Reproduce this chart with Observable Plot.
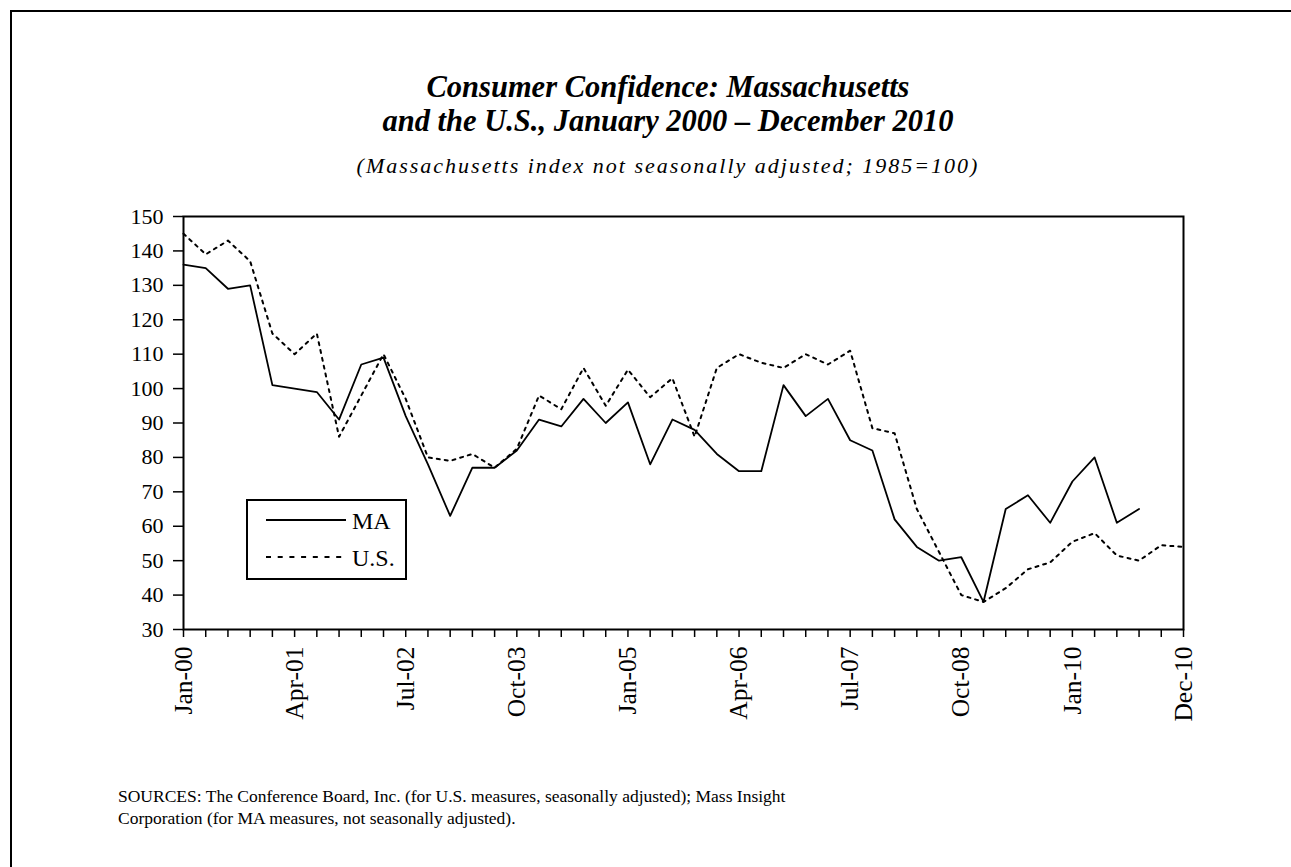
<!DOCTYPE html>
<html>
<head>
<meta charset="utf-8">
<script src="https://cdn.jsdelivr.net/npm/d3@7"></script>
<script src="https://cdn.jsdelivr.net/npm/@observablehq/plot@0.6"></script>
<style>
  html, body { margin: 0; padding: 0; background: #fff; }
  #page { position: relative; width: 1291px; height: 867px; overflow: hidden; font-family: "Liberation Serif", "Times New Roman", serif; color: #000; }
  #border { position: absolute; left: 10px; top: 10px; width: 1400px; height: 1000px; border-left: 2px solid #000; border-top: 2px solid #000; }
  #chart { position: absolute; left: 0; top: 0; }
  #title { position: absolute; left: 168px; width: 1000px; top: 70px; text-align: center; font-size: 30.5px; line-height: 34px; font-weight: bold; font-style: italic; }
  #subtitle { position: absolute; left: 168px; width: 1000px; top: 153px; text-align: center; font-size: 22px; line-height: 25px; font-style: italic; letter-spacing: 2px; }
  #legend { position: absolute; left: 246px; top: 499px; width: 157px; height: 77px; border: 2px solid #000; background: #fff; }
  #legend .row { position: absolute; left: 0; height: 28px; font-size: 24px; line-height: 28px; }
  #legend svg { position: absolute; left: 17px; top: 0; }
  #legend span { position: absolute; left: 104px; top: 0; }
  #footer { position: absolute; left: 118px; top: 785px; font-size: 17.5px; line-height: 22px; }
</style>
</head>
<body>
<div id="page">
  <div id="border"></div>
  <div id="chart"></div>
  <div id="title">Consumer Confidence: Massachusetts<br>and the U.S., January 2000 – December 2010</div>
  <div id="subtitle">(Massachusetts index not seasonally adjusted; 1985=100)</div>
  <div id="legend"></div>
  <div id="footer">SOURCES: The Conference Board, Inc. (for U.S. measures, seasonally adjusted); Mass Insight<br>Corporation (for MA measures, not seasonally adjusted).</div>
</div>
<script>
// Quarterly observations, index 0 = Jan-00
const maValues = [136, 135, 129, 130, 101, 100, 99, 91, 107, 109, 92, 78, 63, 77, 77, 82,
  91, 89, 97, 90, 96, 78, 91, 88, 81, 76, 76, 101, 92, 97, 85, 82,
  62, 54, 50, 51, 38, 65, 69, 61, 73, 80, 61, 65];
const usValues = [145, 139, 143, 137, 116, 110, 116, 86, 98, 110, 97, 80, 79, 81, 77, 82.5,
  98, 94, 106, 95, 105.5, 97.5, 103, 86, 106, 110, 107.5, 106, 110, 107, 111, 88.5,
  87, 65, 52.5, 40, 38, 42, 47.5, 49.5, 55.5, 58, 51.5, 50, 54.5, 54];
const tickLabels = ["Jan-00", "Apr-01", "Jul-02", "Oct-03", "Jan-05", "Apr-06", "Jul-07", "Oct-08", "Jan-10", "Dec-10"];
const yTicks = [30, 40, 50, 60, 70, 80, 90, 100, 110, 120, 130, 140, 150];
const seriesNames = ["MA", "U.S."];

const ma = maValues.map((v, i) => ({i, v}));
const us = usValues.map((v, i) => ({i, v}));
const nTicks = usValues.length; // 46 tick positions
const font = '"Liberation Serif", "Times New Roman", serif';

const chart = Plot.plot({
  width: 1291,
  height: 867,
  marginLeft: 183,
  marginRight: 108,
  marginTop: 216,
  marginBottom: 238,
  style: {fontFamily: font, color: "#000", background: "transparent"},
  x: {domain: [0, nTicks - 1]},
  y: {domain: [30, 150]},
  marks: [
    Plot.axisY({ticks: yTicks, tickSize: 10, tickPadding: 10, fontSize: 22, label: null, strokeWidth: 1.5}),
    Plot.axisX({ticks: d3.range(nTicks), tickSize: 8, tickPadding: 9, tickRotate: -90, fontSize: 25.5, label: null, strokeWidth: 1.5,
      tickFormat: d => d % 5 === 0 ? tickLabels[d / 5] : ""}),
    Plot.line(us, {x: "i", y: "v", stroke: "#000", strokeWidth: 2, strokeDasharray: "3,5"}),
    Plot.line(ma, {x: "i", y: "v", stroke: "#000", strokeWidth: 1.8}),
    Plot.frame({stroke: "#000", strokeWidth: 2})
  ]
});
document.getElementById("chart").appendChild(chart);

// Legend
const legend = document.getElementById("legend");
const dashes = [null, "5,6.7"];
seriesNames.forEach((name, k) => {
  const row = document.createElement("div");
  row.className = "row";
  row.style.top = (6 + k * 37) + "px";
  row.style.width = "157px";
  const svg = d3.create("svg").attr("width", 84).attr("height", 28);
  svg.append("line").attr("x1", 1).attr("x2", 81).attr("y1", 13).attr("y2", 13)
    .attr("stroke", "#000").attr("stroke-width", 2)
    .attr("stroke-dasharray", dashes[k]);
  row.appendChild(svg.node());
  const sp = document.createElement("span");
  sp.textContent = name;
  row.appendChild(sp);
  legend.appendChild(row);
});
</script>
</body>
</html>
